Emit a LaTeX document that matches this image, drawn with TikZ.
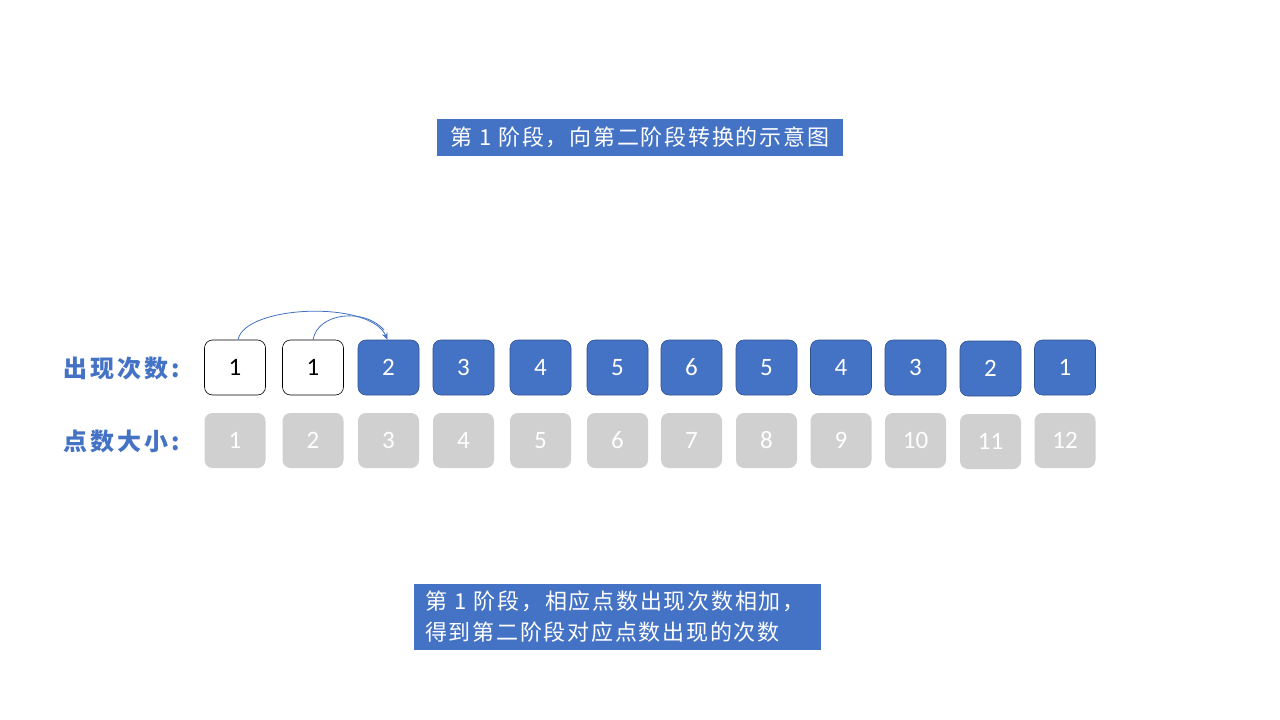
\documentclass[tikz,border=0pt]{standalone}
\usepackage{fontspec}
\setmainfont{Carlito}
\newfontfamily\cjk{Noto Sans CJK SC}
\newfontfamily\cjkwide[LetterSpace=8]{Noto Sans CJK SC}
\newfontfamily\cjklab[LetterSpace=13]{Noto Sans CJK SC}
\usetikzlibrary{arrows.meta}
\definecolor{blu}{HTML}{4472C4}
\definecolor{bluedge}{HTML}{2F528F}
\definecolor{gry}{HTML}{D0D0D0}
\begin{document}
\begin{tikzpicture}[x=1pt,y=-1pt,
  cell/.style={minimum width=61pt,minimum height=55pt,rounded corners=8pt,inner sep=0pt,font=\fontsize{25}{28}\selectfont},
  whitecell/.style={cell,draw=black,fill=white,text=black,line width=0.6pt},
  bluecell/.style={cell,draw=bluedge,fill=blu,text=white,line width=0.6pt},
  graycell/.style={cell,fill=gry,text=white},
  lab/.style={text=blu,font=\cjklab\bfseries\fontsize{24}{26}\selectfont,anchor=west,inner sep=0pt},
  banner/.style={fill=blu,text=white,font=\cjkwide\fontsize{22}{31}\selectfont,inner sep=0pt},
  arc/.style={draw=blu,line width=0.8pt}
]
\useasboundingbox (0,0) rectangle (1280,720);
\fill[white] (0,0) rectangle (1280,720);

\node[banner,minimum width=406pt,minimum height=37pt] (title) at (640,137.5) {第 1 阶段，向第二阶段转换的示意图};

\node[lab] (labA) at (63,368) {出现次数:};
\node[lab] (labB) at (63,441) {点数大小:};

\node[whitecell] (t1) at (235,367.5) {1};
\node[whitecell] (t2) at (313,367.5) {1};
\node[bluecell] (t3) at (388.5,367.5) {2};
\node[bluecell] (t4) at (463.5,367.5) {3};
\node[bluecell] (t5) at (540.5,367.5) {4};
\node[bluecell] (t6) at (617.5,367.5) {5};
\node[bluecell] (t7) at (691.5,367.5) {6};
\node[bluecell] (t8) at (766.5,367.5) {5};
\node[bluecell] (t9) at (841,367.5) {4};
\node[bluecell] (t10) at (915.5,367.5) {3};
\node[bluecell] (t11) at (990.5,368.5) {2};
\node[bluecell] (t12) at (1065,367.5) {1};

\node[graycell] (b1) at (235,440.5) {1};
\node[graycell] (b2) at (313,440.5) {2};
\node[graycell] (b3) at (388.5,440.5) {3};
\node[graycell] (b4) at (463.5,440.5) {4};
\node[graycell] (b5) at (540.5,440.5) {5};
\node[graycell] (b6) at (617.5,440.5) {6};
\node[graycell] (b7) at (691.5,440.5) {7};
\node[graycell] (b8) at (766.5,440.5) {8};
\node[graycell] (b9) at (841,440.5) {9};
\node[graycell] (b10) at (915.5,440.5) {10};
\node[graycell] (b11) at (990.5,441.5) {11};
\node[graycell] (b12) at (1065,440.5) {12};

\draw[arc,-{Stealth[length=7pt,width=6pt]}] ([xshift=3pt]t1.north) .. controls (245,305) and (370,300) .. ([xshift=-1pt]t3.north);
\draw[arc] ([xshift=0pt]t2.north) .. controls (318,312) and (365,308) .. (384,330);

\node[banner,minimum width=407pt,minimum height=66pt,align=left,text width=385pt] (note) at (617.5,617) {第 1 阶段，相应点数出现次数相加，\\得到第二阶段对应点数出现的次数};
\end{tikzpicture}
\end{document}
